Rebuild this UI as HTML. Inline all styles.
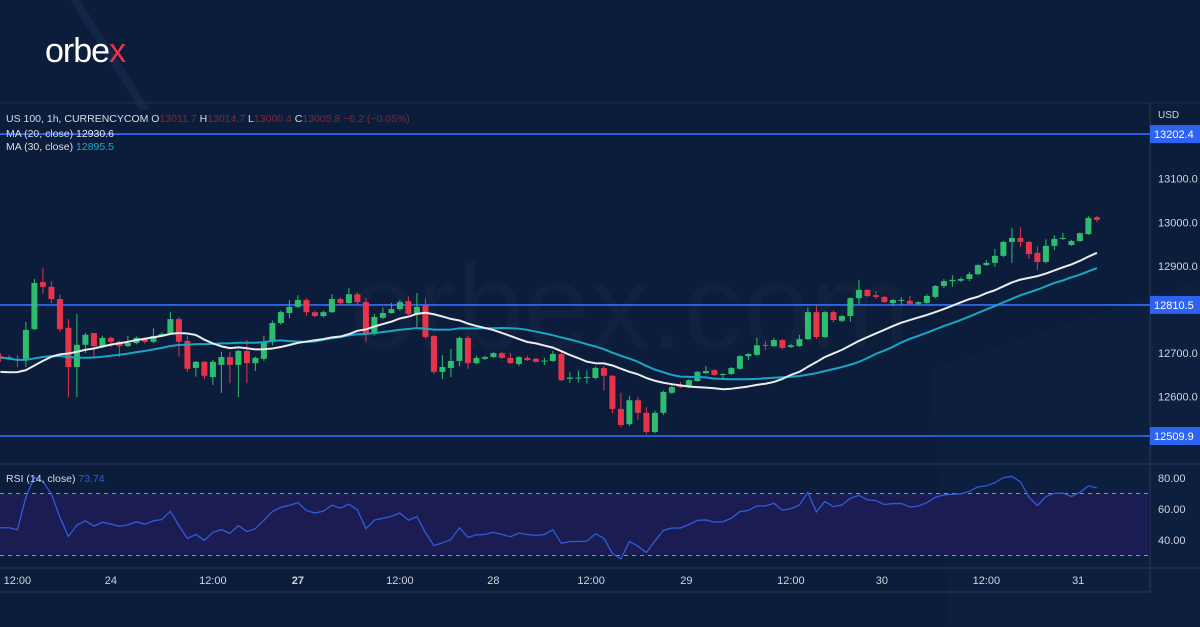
<!DOCTYPE html>
<html><head><meta charset="utf-8"><style>
html,body{margin:0;padding:0;background:#0b1d3a;}
#wrap{position:relative;width:1200px;height:627px;overflow:hidden;background:#0b1d3a;font-family:"Liberation Sans",sans-serif;}
svg{position:absolute;left:0;top:0;}
.t{font-family:"Liberation Sans",sans-serif;}
</style></head><body>
<div id="wrap">
<svg id="chart" width="1200" height="627">
  <polygon points="70,0 80,0 150,110 140,110" fill="#1a2f55" opacity="0.5"/>
  <polygon points="930,370 1200,280 1200,627 950,627" fill="#10264a" opacity="0.35"/>
  <text x="45" y="62" class="t" font-size="34" fill="#ffffff" letter-spacing="-1">orbe<tspan fill="#e8344a">x</tspan></text>
  <text x="350" y="348" class="t" font-size="120" fill="#ffffff" fill-opacity="0.025">orbex.com</text>
  <line x1="0" y1="103" x2="1200" y2="103" stroke="#1b2d4c" stroke-width="1"/>
  <line x1="1150" y1="103" x2="1150" y2="592" stroke="#2a3a55" stroke-width="1"/>
  <line x1="0" y1="464" x2="1200" y2="464" stroke="#1f3050" stroke-width="1.5"/>
  <line x1="0" y1="568" x2="1200" y2="568" stroke="#1f3050" stroke-width="1.5"/>
  <line x1="0" y1="592" x2="1150" y2="592" stroke="#1f3050" stroke-width="1.5"/>
  <text x="1158" y="118" class="t" font-size="10" fill="#d0d4dc">USD</text>
  <g id="priceAxis"></g>
  <g id="rsiBand"></g>
  <g id="hlines"></g>
  <g id="candles"></g>
  <g id="mas"></g>
  <g id="rsi"></g>
  <g id="timeAxis"></g>
  <g id="levelLabels"></g>
  <text x="6" y="122" class="t" font-size="10.5" fill="#d9dde6">US 100, 1h, CURRENCYCOM  O<tspan fill="#7a2a36">13011.7</tspan>  H<tspan fill="#7a2a36">13014.7</tspan>  L<tspan fill="#7a2a36">13000.4</tspan>  C<tspan fill="#7a2a36">13005.8  −6.2 (−0.05%)</tspan></text>
  <text x="6" y="137" class="t" font-size="10.5" fill="#d9dde6">MA (20, close)  <tspan fill="#e8e8e8">12930.6</tspan></text>
  <text x="6" y="150" class="t" font-size="10.5" fill="#d9dde6">MA (30, close)  <tspan fill="#1aa6c6">12895.5</tspan></text>
  <text x="6" y="482" class="t" font-size="10.5" fill="#d9dde6">RSI (14, close)  <tspan fill="#2f5bd8">73.74</tspan></text>
</svg>
</div>
<script>
const opens = [12693,12691,12687,12687,12755,12863,12852,12824,12758,12668,12719,12746,12716,12735,12726,12716,12723,12732,12726,12739,12746,12778,12728,12666,12680,12645,12673,12691,12673,12705,12677,12687,12728,12769,12792,12806,12822,12794,12785,12794,12824,12815,12835,12817,12744,12781,12792,12801,12819,12790,12810,12739,12657,12666,12682,12735,12677,12687,12691,12700,12689,12675,12689,12687,12681,12682,12698,12641,12643,12643,12643,12666,12648,12572,12537,12592,12563,12519,12563,12609,12626,12622,12636,12654,12661,12650,12652,12664,12693,12696,12719,12716,12730,12714,12716,12732,12794,12737,12794,12774,12785,12826,12845,12833,12829,12815,12820,12820,12813,12815,12829,12854,12865,12866,12870,12881,12902,12907,12923,12955,12964,12955,12930,12909,12946,12962,12948,12957,12973,13011.7];
const highs = [12700,12695,12695,12771,12870,12895,12865,12834,12778,12790,12747,12746,12740,12738,12728,12740,12738,12735,12757,12748,12795,12782,12740,12682,12682,12684,12703,12703,12708,12730,12692,12740,12775,12798,12822,12833,12826,12797,12797,12835,12828,12849,12840,12826,12790,12805,12815,12822,12830,12838,12826,12741,12695,12710,12738,12740,12694,12694,12702,12703,12700,12693,12694,12689,12690,12705,12703,12656,12660,12660,12669,12670,12650,12609,12602,12600,12576,12568,12614,12631,12634,12640,12659,12671,12663,12654,12668,12695,12700,12735,12728,12735,12733,12721,12742,12805,12808,12796,12798,12788,12828,12868,12847,12842,12831,12824,12828,12831,12819,12835,12856,12870,12879,12874,12886,12904,12913,12939,12957,12987,12989,12957,12945,12961,12970,12976,12960,12977,13014,13014.7];
const lows = [12680,12684,12668,12668,12753,12836,12815,12748,12599,12599,12700,12689,12712,12714,12691,12714,12720,12722,12723,12737,12743,12692,12657,12646,12641,12627,12609,12631,12599,12631,12659,12682,12718,12765,12780,12803,12785,12782,12782,12792,12810,12812,12812,12726,12740,12778,12790,12797,12787,12760,12733,12652,12640,12645,12669,12664,12674,12684,12689,12687,12675,12670,12682,12678,12673,12680,12636,12632,12633,12630,12640,12614,12562,12530,12533,12547,12514,12516,12558,12606,12620,12620,12634,12652,12648,12642,12650,12662,12684,12694,12707,12714,12709,12712,12714,12730,12732,12735,12771,12771,12772,12812,12829,12824,12815,12808,12810,12810,12810,12813,12826,12849,12852,12863,12865,12879,12900,12898,12920,12907,12943,12916,12890,12906,12936,12960,12946,12955,12971,13000.4];
const closes = [12687,12687,12684,12753,12861,12852,12824,12755,12668,12719,12742,12716,12735,12726,12716,12723,12735,12726,12739,12744,12778,12726,12664,12680,12648,12680,12691,12673,12705,12677,12689,12725,12769,12794,12806,12822,12794,12785,12794,12824,12815,12835,12817,12744,12783,12792,12801,12817,12790,12806,12737,12657,12668,12682,12735,12677,12689,12691,12700,12689,12677,12691,12684,12680,12683,12698,12638,12644,12644,12645,12666,12648,12572,12535,12592,12563,12519,12563,12611,12622,12622,12638,12657,12659,12650,12652,12666,12693,12698,12718,12718,12730,12712,12718,12732,12794,12737,12794,12776,12785,12826,12845,12831,12829,12817,12822,12822,12813,12817,12831,12854,12865,12868,12870,12881,12902,12907,12923,12955,12964,12955,12927,12909,12946,12962,12964,12957,12975,13010,13005.8];
const priorCloses = [12770,12765,12760,12758,12755,12762,12750,12745,12752,12748,12700,12680,12660,12650,12640,12635,12645,12630,12640,12650,12655,12645,12640,12650,12660,12655,12665,12670,12680];
const levels = [13202.4,12810.5,12509.9];
const priceTicks = [13100,13000,12900,12800,12700,12600];
const rsiTicks = [80,60,40];
const timeLabels = ["12:00","24","12:00","27","12:00","28","12:00","29","12:00","30","12:00","31"];
const timeLabelPos = [2,13,25,35,47,58,69.5,80.7,93,103.7,116,126.8];

const NS="http://www.w3.org/2000/svg";
const xOf = i => 0.4 + 8.5*i;
const yP = p => 436 - (p-12509.9)*0.436;
const yR = r => 509 - (r-60)*1.55;
function mk(tag, attrs, parent){const e=document.createElementNS(NS,tag);for(const k in attrs)e.setAttribute(k,attrs[k]);parent.appendChild(e);return e;}

const pa=document.getElementById('priceAxis');
priceTicks.forEach(p=>{
  const t=mk('text',{x:1158,y:yP(p)+4,'font-size':11,fill:'#d0d4dc','class':'t'},pa);
  
  
  t.textContent=p.toFixed(1);
});
const rb=document.getElementById('rsiBand');
const band=mk('rect',{x:0,y:yR(70),width:1150,height:yR(30)-yR(70),fill:'#1b1d52'},rb);


[70,30].forEach(v=>{
  const l=mk('line',{x1:0,x2:1150,y1:yR(v),y2:yR(v),stroke:'#8a93a8','stroke-width':1,'stroke-dasharray':'4,4'},rb);
  
  
});
rsiTicks.forEach(v=>{
  const t=mk('text',{x:1158,y:yR(v)+4,'font-size':11,fill:'#d0d4dc','class':'t'},rb);
  
  
  t.textContent=v.toFixed(2);
});
const hl=document.getElementById('hlines');
const ll=document.getElementById('levelLabels');
levels.forEach(v=>{
  const l=mk('line',{x1:0,x2:1150,y1:yP(v),y2:yP(v),stroke:'#2f63e6','stroke-width':1.8},hl);
  
  
  const r=mk('rect',{x:1150,y:yP(v)-9,width:50,height:18,fill:'#2e62f0'},ll);
  
  
  const t=mk('text',{x:1154,y:yP(v)+4,'font-size':11,fill:'#ffffff','class':'t'},ll);
  
  
  t.textContent=v.toFixed(1);
});
const cg=document.getElementById('candles');
closes.forEach((c,i)=>{
  const o=opens[i],h=highs[i],l=lows[i];
  const up=c>=o, col=up?'#2ebd6e':'#e8344a';
  const x=xOf(i);
  const w=mk('line',{x1:x,x2:x,y1:yP(h),y2:yP(l),stroke:col,'stroke-width':1},cg);
  
  
  const top=yP(Math.max(o,c)),bot=yP(Math.min(o,c));
  const b=mk('rect',{x:x-3,y:top,width:6,height:Math.max(1,bot-top),fill:col},cg);
  
  
});
const all=priorCloses.concat(closes);
const off=priorCloses.length;
function sma(n){const out=[];for(let i=0;i<closes.length;i++){const j=i+off;let s=0,k=0;for(let m=Math.max(0,j-n+1);m<=j;m++){s+=all[m];k++;}out.push(s/k);}return out;}
const mg=document.getElementById('mas');
[[30,'#1aa6c6','ma30-line'],[20,'#ececec','ma20-line']].forEach(([n,col,name])=>{
  const v=sma(n);
  const pl=mk('polyline',{points:v.map((p,i)=>xOf(i)+','+yP(p)).join(' '),fill:'none',stroke:col,'stroke-width':2,'stroke-linejoin':'round'},mg);
  
  
});
const rs=[];
let ag=0,al=0;
for(let j=1;j<=14;j++){const d=all[j]-all[j-1];if(d>0)ag+=d;else al-=d;}
ag/=14;al/=14;
for(let j=15;j<all.length;j++){
  const d=all[j]-all[j-1];
  ag=(ag*13+Math.max(d,0))/14; al=(al*13+Math.max(-d,0))/14;
  if(j>=off) rs.push(al===0?100:100-100/(1+ag/al));
}
const rg=document.getElementById('rsi');
const rl=mk('polyline',{points:rs.map((r,i)=>xOf(i)+','+yR(r)).join(' '),fill:'none',stroke:'#2f5bd8','stroke-width':1.3},rg);


const ta=document.getElementById('timeAxis');
timeLabels.forEach((s,k)=>{
  const t=mk('text',{x:xOf(timeLabelPos[k]),y:584,'font-size':11,fill:'#d0d4dc','text-anchor':'middle','class':'t','font-weight':s==='27'?'bold':'normal'},ta);
  
  
  t.textContent=s;
});
</script>
</body></html>
